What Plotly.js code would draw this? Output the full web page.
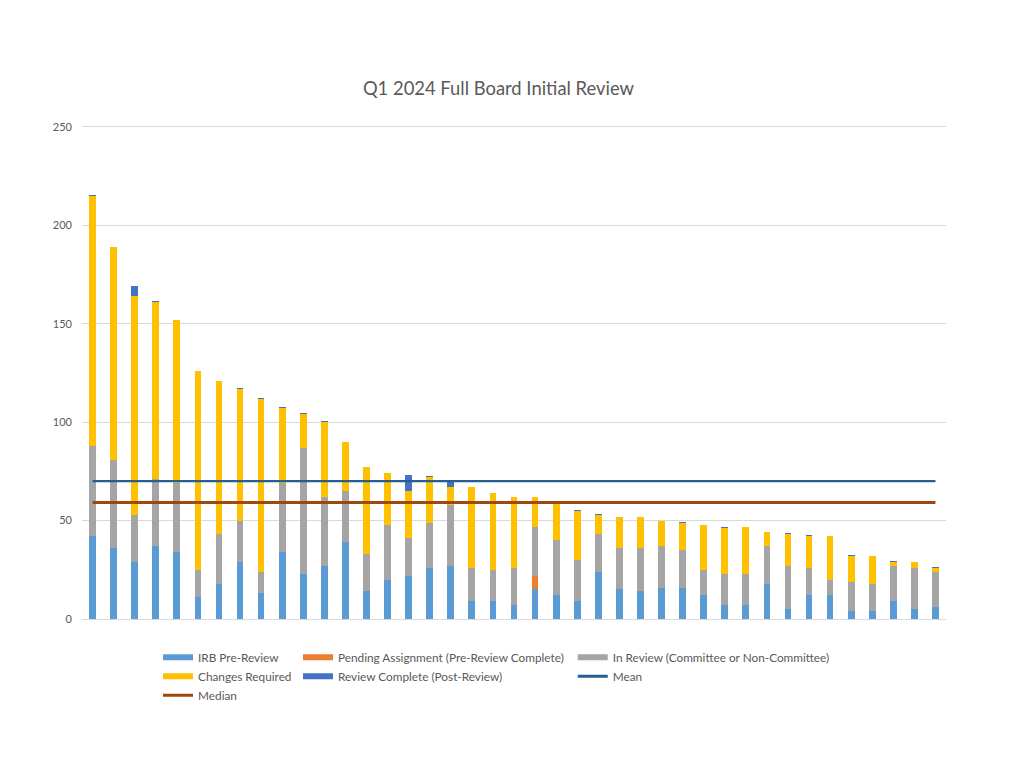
<!DOCTYPE html>
<html>
<head>
<meta charset="utf-8">
<script src="https://cdn.plot.ly/plotly-3.0.1.min.js"></script>
<style>html,body{margin:0;padding:0;background:#fff;}#chart{width:1024px;height:768px;}</style>
</head>
<body>
<div id="chart"></div>
<script>
const categories = Array.from({length: 41}, (_, i) => 'Study ' + (i + 1));
const irbPreReview   = [42,36,29,37,34,11,18,29,13,34,23,27,39,14,20,22,26,27,9,9,7,15,12,9,24,15,14,16,16,12,7,7,18,5,12,12,4,4,9,5,6];
const pendingAssign  = [0,0,0,0,0,0,0,0,0,0,0,0,0,0,0,0,0,0,0,0,0,7,0,0,0,0,0,0,0,0,0,0,0,0,0,0,0,0,0,0,0];
const inReview       = [46,45,24,34,35,14,25,21,11,35,64,35,26,19,28,19,23,31,17,16,19,25,28,21,19,21,22,21,19,13,16,16,19,22,14,8,15,14,18,21,18];
const changesReq     = [127,108,111,90,83,101,78,67,88,38,17,38,25,44,26,24,23,9,41,39,36,15,19,25,10,16,16,13,14,23,23,24,7,16,16,22,13,14,2,3,2];
const reviewComplete = [0.5,0,5,0.5,0,0,0,0.5,0.5,0.5,0.5,0.5,0,0,0,8,0.5,3,0,0,0,0,0,0.5,0.5,0,0,0,0.5,0,0.5,0,0,0.5,0.5,0,0.5,0,0.5,0,0.5];
const meanValue = 70.1;
const medianValue = 59.2;
const yTicks = [0,50,100,150,200,250];

const seriesNames = ['IRB Pre-Review','Pending Assignment (Pre-Review Complete)','In Review (Committee or Non-Committee)','Changes Required','Review Complete (Post-Review)'];
const seriesData = [irbPreReview, pendingAssign, inReview, changesReq, reviewComplete];
const seriesColors = ['#5B9BD5','#ED7D31','#A5A5A5','#FFC000','#4472C4'];
const legendOf = ['legend','legend2','legend3','legend','legend2'];

const traces = [];
seriesData.forEach((vals, i) => {
  traces.push({type:'bar', x: categories, y: vals, name: seriesNames[i],
    marker:{color: seriesColors[i], line:{width:0}}, showlegend:false, hoverinfo:'y+name'});
});
traces.push({type:'scatter', mode:'lines', x: categories, y: categories.map(() => meanValue),
  name:'Mean', line:{color:'#255E91', width:2.25}, showlegend:false});
traces.push({type:'scatter', mode:'lines', x: categories, y: categories.map(() => medianValue),
  name:'Median', line:{color:'#9E480E', width:3}, showlegend:false});

// legend entries (wide swatches like the original)
seriesNames.forEach((n, i) => {
  traces.push({type:'scatter', mode:'lines', x:[null], y:[null], name:n,
    line:{color: seriesColors[i], width:6}, legend: legendOf[i], hoverinfo:'skip'});
});
traces.push({type:'scatter', mode:'lines', x:[null], y:[null], name:'Mean',
  line:{color:'#255E91', width:3}, legend:'legend3', hoverinfo:'skip'});
traces.push({type:'scatter', mode:'lines', x:[null], y:[null], name:'Median',
  line:{color:'#9E480E', width:3}, legend:'legend', hoverinfo:'skip'});

const legendFont = {family:'Lato, sans-serif', size:11.8, color:'#595959'};
const legendBase = {orientation:'v', yanchor:'top', y:-0.048, xanchor:'left',
  font: legendFont, bgcolor:'rgba(0,0,0,0)', traceorder:'normal', tracegroupgap:0, itemwidth:30};

const layout = {
  width:1024, height:768,
  paper_bgcolor:'#ffffff', plot_bgcolor:'#ffffff',
  margin:{l:82, r:78, t:125, b:149},
  font:{family:'Lato, sans-serif', color:'#595959'},
  title:{text:'Q1 2024 Full Board Initial Review', font:{family:'Lato, sans-serif', size:18.4, color:'#595959'},
    x:0.482, xanchor:'center', xref:'paper', y:1-89/768, yref:'container', yanchor:'middle'},
  barmode:'stack', bargap:0.68,
  xaxis:{type:'category', showticklabels:false, ticks:'', showgrid:false,
    showline:true, linecolor:'#D9D9D9', linewidth:1, range:[-0.5, 40.5], fixedrange:true},
  yaxis:{range:[0,251], tickvals:yTicks, showgrid:true, gridcolor:'#D9D9D9', gridwidth:1,
    zeroline:true, zerolinecolor:'#D9D9D9', ticks:'', ticklabelstandoff:9,
    tickfont:{family:'Lato, sans-serif', size:11, color:'#595959'}, showline:false, fixedrange:true},
  legend: Object.assign({}, legendBase, {x:0.088}),
  legend2: Object.assign({}, legendBase, {x:0.250}),
  legend3: Object.assign({}, legendBase, {x:0.568}),
  showlegend:true
};

Plotly.newPlot('chart', traces, layout, {displayModeBar:false, staticPlot:true});
</script>
</body>
</html>
